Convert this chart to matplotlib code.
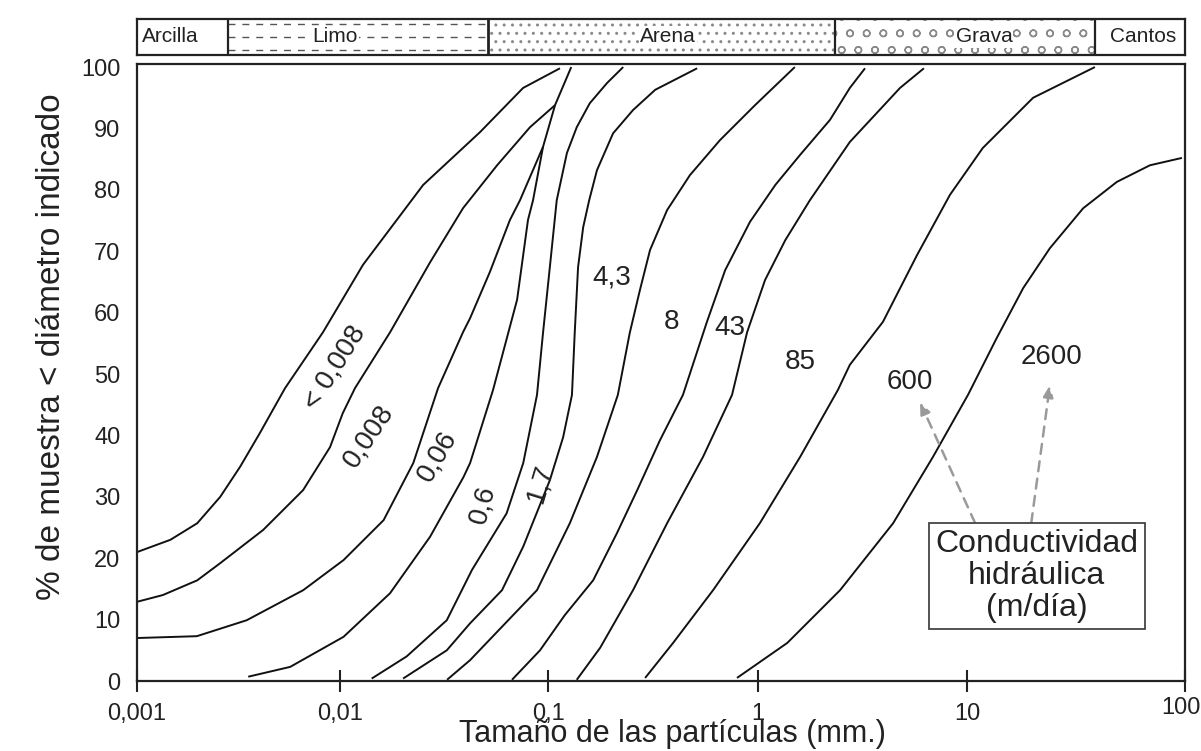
import numpy as np
import matplotlib.pyplot as plt
import matplotlib.transforms as mtransforms

plt.rcParams['font.family'] = ['Liberation Sans', 'DejaVu Sans']

# granulometric curves: particle size (mm) vs % of sample finer than size
size_lt0008 = [0.001, 0.00146, 0.00198, 0.00257, 0.00322, 0.00403, 0.00536,
               0.00824, 0.0129, 0.0251, 0.0471, 0.0759, 0.114]
pct_lt0008 = [21.0, 23.0, 25.7, 30.0, 34.9, 40.4, 47.7, 56.8, 67.8, 80.8,
              89.4, 96.6, 99.8]

size_0008 = [0.001, 0.00134, 0.00198, 0.00257, 0.00418, 0.00658, 0.00893,
             0.0103, 0.0118, 0.0174, 0.0271, 0.039, 0.0569, 0.0819, 0.108]
pct_0008 = [12.9, 14.0, 16.4, 19.2, 24.6, 31.1, 38.1, 43.6, 47.7, 56.8,
            68.2, 77.0, 84.0, 90.2, 93.8]

size_006 = [0.001, 0.00197, 0.00347, 0.00659, 0.0104, 0.0162, 0.0225,
            0.0296, 0.039, 0.0422, 0.0525, 0.0656, 0.0733, 0.0946]
pct_006 = [7.0, 7.3, 9.9, 14.8, 19.7, 26.2, 35.5, 47.7, 56.8, 59.1, 66.6,
           75.1, 78.3, 87.0]

size_06 = [0.00353, 0.00568, 0.0104, 0.0174, 0.0271, 0.0392, 0.0422,
           0.0544, 0.071, 0.0801, 0.0847, 0.0946, 0.108, 0.129]
pct_06 = [0.7, 2.3, 7.2, 14.3, 23.5, 33.2, 35.5, 47.4, 62.1, 75.1, 78.3,
          87.0, 93.8, 100.0]

size_17 = [0.0142, 0.0209, 0.0326, 0.0431, 0.0632, 0.076, 0.0885, 0.0946,
           0.102, 0.110, 0.123, 0.137, 0.158, 0.191, 0.228]
pct_17 = [0.4, 4.0, 9.9, 18.1, 27.3, 35.5, 46.6, 56.7, 67.4, 78.3, 86.0,
          90.2, 94.1, 97.4, 100.0]

size_43 = [0.0201, 0.0326, 0.0422, 0.0601, 0.076, 0.102, 0.118, 0.130, 0.134,
           0.139, 0.147, 0.157, 0.171, 0.204, 0.254, 0.324, 0.513]
pct_43 = [0.4, 5.0, 9.4, 14.8, 21.9, 32.7, 39.7, 46.6, 56.7, 67.4, 73.9,
          78.3, 83.2, 89.2, 93.0, 96.3, 99.8]

size_8 = [0.0327, 0.0422, 0.0885, 0.127, 0.171, 0.215, 0.245, 0.274, 0.306,
          0.369, 0.474, 0.659, 0.968, 1.50]
pct_8 = [0.2, 3.4, 14.8, 25.7, 36.5, 46.6, 56.7, 63.7, 70.2, 76.7, 82.4,
         88.1, 93.8, 100.0]

size_43b = [0.0671, 0.0915, 0.120, 0.164, 0.213, 0.266, 0.341, 0.439, 0.571,
            0.697, 0.916, 1.21, 1.59, 2.21, 2.75, 3.25]
pct_43b = [0.2, 5.0, 10.7, 16.4, 24.1, 31.1, 39.2, 46.6, 58.5, 66.9, 74.8,
           80.8, 85.7, 91.4, 96.6, 99.8]

size_85 = [0.137, 0.177, 0.254, 0.369, 0.547, 0.752, 0.887, 1.08, 1.35,
           1.77, 2.75, 4.78, 6.22]
pct_85 = [0.2, 5.4, 14.8, 25.7, 36.5, 46.6, 56.8, 65.3, 71.8, 78.3, 87.8,
          96.6, 99.8]

size_600 = [0.290, 0.394, 0.611, 1.02, 1.59, 2.41, 2.75, 3.96, 5.77, 8.29,
            11.8, 20.1, 38.6]
pct_600 = [0.5, 6.2, 14.8, 25.7, 36.5, 47.4, 51.5, 58.5, 69.4, 79.2, 86.8,
           95.0, 100.0]

size_2600 = [0.794, 1.38, 2.47, 4.43, 6.87, 10.1, 13.7, 18.1, 24.0, 34.1,
             48.7, 69.0, 96.8]
pct_2600 = [0.5, 6.2, 14.8, 25.7, 36.5, 46.6, 55.9, 64.0, 70.5, 77.0, 81.3,
            84.0, 85.2]

curves = [
    (size_lt0008, pct_lt0008), (size_0008, pct_0008), (size_006, pct_006),
    (size_06, pct_06), (size_17, pct_17), (size_43, pct_43), (size_8, pct_8),
    (size_43b, pct_43b), (size_85, pct_85), (size_600, pct_600),
    (size_2600, pct_2600),
]

# hydraulic conductivity labels (m/day) next to each curve
k_labels = ["< 0,008", "0,008", "0,06", "0,6", "1,7", "4,3", "8", "43", "85",
            "600", "2600"]
k_label_x = [0.00944, 0.01377, 0.0292, 0.0487, 0.0916, 0.202, 0.389, 0.736,
             1.59, 5.34, 24.5]
k_label_y = [51.0, 39.9, 36.6, 28.7, 32.2, 65.8, 58.5, 57.5, 52.0, 48.7, 52.8]
k_label_rot = [58, 56, 60, 75, 73, 0, 0, 0, 0, 0, 0]

# arrows from the legend box to the "600" and "2600" labels
arrow_from = [(10.9, 25.7), (19.7, 25.7)]
arrow_to = [(5.96, 45.4), (24.0, 48.2)]

# soil classes along the top
soil_names = ["Arcilla", "Limo", "Arena", "Grava", "Cantos"]
soil_edges = [0.001, 0.00281, 0.0515, 2.34, 38.6, 100]
soil_label_x = [0.00145, 0.00944, 0.373, 11.96, 64.2]
soil_hatch = [None, None, '..', 'o', None]

x_ticks = [0.001, 0.01, 0.1, 1, 10, 100]
x_ticklabels = ["0,001", "0,01", "0,1", "1", "10", "100"]
y_ticks = list(range(0, 101, 10))

# the printed log axis is hand drawn: decades are not exactly equal in width
decade_log = [-3, -2, -1, 0, 1, 2]
decade_px = [0, 203, 411, 621, 830, 1048]


def _fwd(x):
    lx = np.log10(np.maximum(np.asarray(x, dtype=float), 1e-12))
    return np.interp(lx, decade_log, decade_px)


def _inv(p):
    return 10 ** np.interp(np.asarray(p, dtype=float), decade_px, decade_log)


fig = plt.figure(figsize=(12.01, 7.51), dpi=100)
ax = fig.add_axes([0.1141, 0.0932, 0.8726, 0.8216])
ax.set_xscale('function', functions=(_fwd, _inv))

for sizes, pcts in curves:
    ax.plot(sizes, pcts, color='#111111', lw=1.4, solid_capstyle='butt',
            solid_joinstyle='round')

for lab, lx, ly, rot in zip(k_labels, k_label_x, k_label_y, k_label_rot):
    ax.text(lx, ly, lab, fontsize=20, color='#222222', rotation=rot,
            ha='center', va='center', rotation_mode='anchor')

for start, end in zip(arrow_from, arrow_to):
    ax.annotate('', xy=end, xytext=start,
                arrowprops=dict(arrowstyle='-|>,head_length=0.7,head_width=0.3',
                                color='#9a9a9a', lw=1.8, linestyle=(0, (4, 3)),
                                shrinkA=0, shrinkB=0))

ax.text(20.9, 17.1, "Conductividad\nhidráulica\n(m/día)", fontsize=23,
        ha='center', va='center', linespacing=1.07, color='#222222',
        bbox=dict(boxstyle='square,pad=0.2', fc='white', ec='#444444', lw=1.3))

ax.set_xlim(0.001, 100)
ax.set_ylim(0, 100.5)
ax.set_xticks(x_ticks)
ax.set_xticklabels(x_ticklabels)
ax.minorticks_off()
ax.set_yticks(y_ticks)
ax.tick_params(axis='x', direction='inout', length=16, width=1.5,
               labelsize=17, pad=8, colors='#222222')
ax.tick_params(axis='y', length=0, labelsize=17, pad=12, colors='#222222')
for sp in ax.spines.values():
    sp.set_linewidth(1.6)
    sp.set_color('#222222')

# the last tick label sits a little higher and inside the figure
last = ax.get_xticklabels()[-1]
last.set_transform(last.get_transform() +
                   mtransforms.ScaledTranslation(-4 / 100, 6 / 100,
                                                 fig.dpi_scale_trans))

fig.text(0.560, 0.0115, "Tamaño de las partículas (mm.)", fontsize=22,
         ha='center', va='baseline', color='#222222')
fig.text(0.043, 0.538, "% de muestra < diámetro indicado", fontsize=24,
         rotation=90, ha='center', va='center', color='#222222')

# soil class band
band = fig.add_axes([0.1141, 0.9268, 0.8726, 0.0479])
band.set_xscale('function', functions=(_fwd, _inv))
band.set_xlim(0.001, 100)
band.set_ylim(0, 1)
band.set_xticks([])
band.set_yticks([])
band.minorticks_off()
for sp in band.spines.values():
    sp.set_linewidth(1.6)
    sp.set_color('#222222')

for i, name in enumerate(soil_names):
    lo, hi = soil_edges[i], soil_edges[i + 1]
    if soil_hatch[i]:
        band.axvspan(lo, hi, facecolor='white', edgecolor='#8a8a8a',
                     hatch=soil_hatch[i], linewidth=0)
    if name == "Limo":
        band.hlines([0.15, 0.5, 0.85], lo, hi, colors='#555555', lw=1.0,
                    linestyles=(0, (5, 5)))
    if i > 0:
        band.axvline(lo, color='#222222', lw=2.0 if name == "Arena" else 1.6)
    band.text(soil_label_x[i], 0.5, name, fontsize=15, ha='center',
              va='center', color='#222222',
              bbox=dict(boxstyle='square,pad=0.05', fc='white', ec='none'))

fig.savefig('out.png', dpi=100)
